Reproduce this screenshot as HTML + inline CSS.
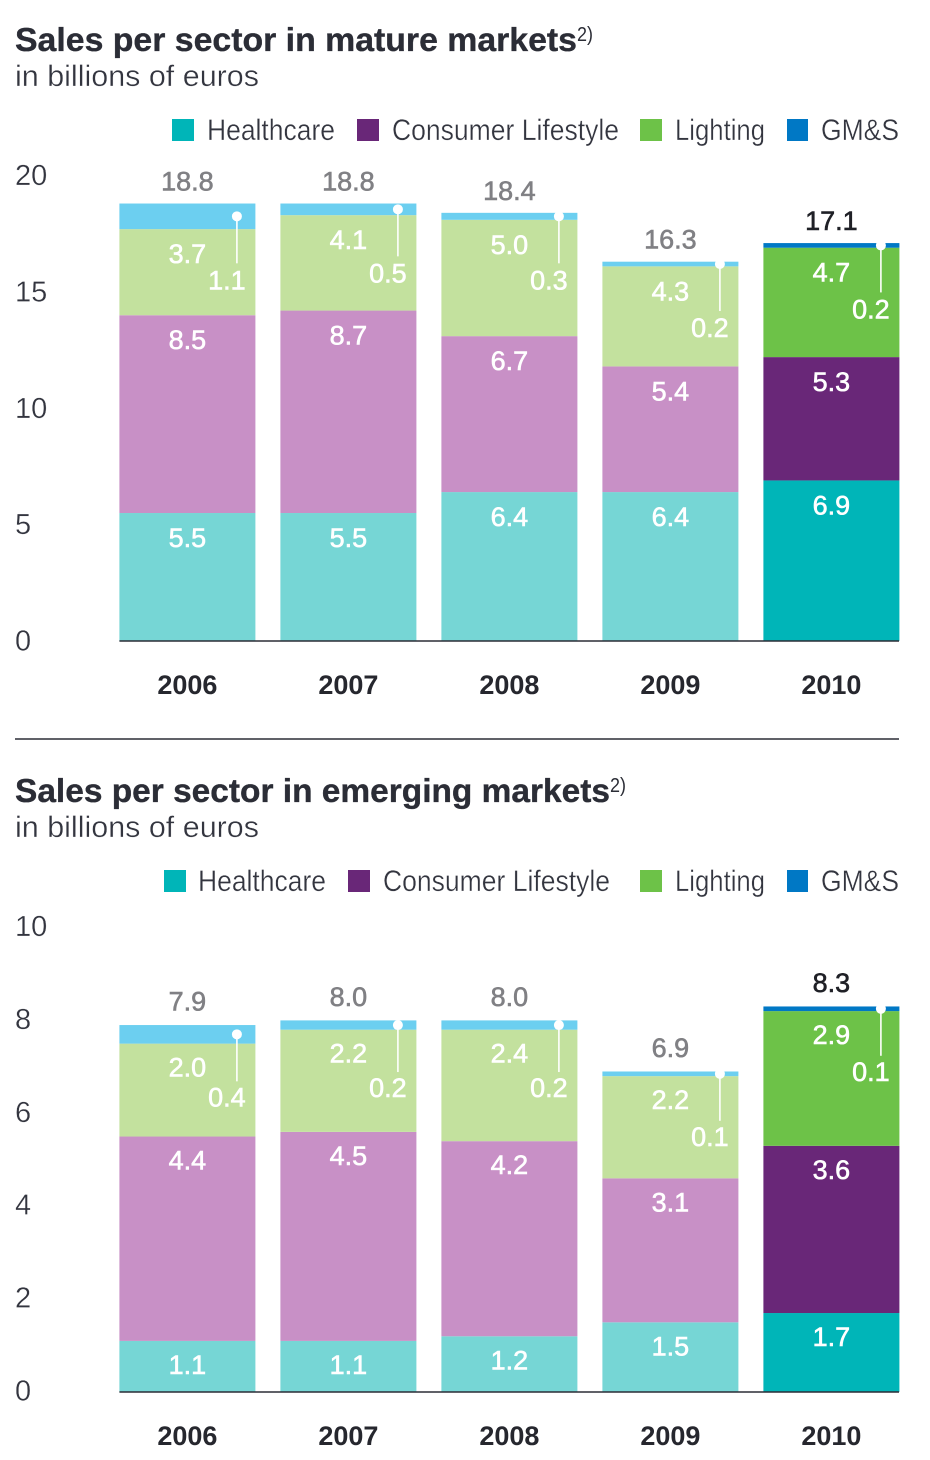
<!DOCTYPE html>
<html lang="en">
<head>
<meta charset="utf-8">
<title>Sales per sector</title>
<style>
html,body{margin:0;padding:0;background:#fff;width:930px;height:1460px;overflow:hidden}
svg{display:block}
text{font-family:"Liberation Sans",sans-serif}
.title{font-size:33px;font-weight:bold;fill:#2b2d36;stroke:#2b2d36;stroke-width:.35px}
.sup{font-size:20px;fill:#2b2d36}
.sub,.legend-label{font-size:30px;fill:#33353f;stroke:#fff;stroke-width:.35px;paint-order:normal}
.tick{font-size:29px;fill:#33353f;stroke:#fff;stroke-width:.3px}
.year{font-size:27px;font-weight:bold;fill:#26272e;text-anchor:middle}
.total{font-size:27px;fill:#808084;text-anchor:middle;stroke:#808084;stroke-width:.6px}
.total.cur{fill:#1f2026;stroke:#1f2026}
.val{font-size:27px;fill:#fff;text-anchor:middle;stroke:#fff;stroke-width:.6px}
</style>
</head>
<body>
<svg id="chart" xmlns="http://www.w3.org/2000/svg" width="930" height="1460" viewBox="0 0 930 1460">
  <text class="title" x="15" y="51" textLength="562" lengthAdjust="spacingAndGlyphs">Sales per sector in mature markets</text>
  <text class="sup" x="577" y="41" textLength="16" lengthAdjust="spacingAndGlyphs">2)</text>
  <text class="sub" x="15" y="86" textLength="244" lengthAdjust="spacingAndGlyphs">in billions of euros</text>

  <g>
    <rect x="172" y="119" width="22" height="22" fill="#00b5b8"/>
    <text class="legend-label" x="207" y="140" textLength="128" lengthAdjust="spacingAndGlyphs">Healthcare</text>
    <rect x="357" y="119" width="22" height="22" fill="#692778"/>
    <text class="legend-label" x="392" y="140" textLength="227" lengthAdjust="spacingAndGlyphs">Consumer Lifestyle</text>
    <rect x="640" y="119" width="22" height="22" fill="#6dc248"/>
    <text class="legend-label" x="675" y="140" textLength="90" lengthAdjust="spacingAndGlyphs">Lighting</text>
    <rect x="787" y="119" width="21" height="22" fill="#0078c5"/>
    <text class="legend-label" x="821" y="140" textLength="78" lengthAdjust="spacingAndGlyphs">GM&amp;S</text>
  </g>

  <g id="mature-plot"></g>

  <line x1="15" x2="899" y1="739" y2="739" stroke="#2b2d36" stroke-width="1.6"/>

  <text class="title" x="15" y="802" textLength="595" lengthAdjust="spacingAndGlyphs">Sales per sector in emerging markets</text>
  <text class="sup" x="610" y="792" textLength="16" lengthAdjust="spacingAndGlyphs">2)</text>
  <text class="sub" x="15" y="837" textLength="244" lengthAdjust="spacingAndGlyphs">in billions of euros</text>

  <g>
    <rect x="164" y="870" width="22" height="22" fill="#00b5b8"/>
    <text class="legend-label" x="198" y="891" textLength="128" lengthAdjust="spacingAndGlyphs">Healthcare</text>
    <rect x="348" y="870" width="22" height="22" fill="#692778"/>
    <text class="legend-label" x="383" y="891" textLength="227" lengthAdjust="spacingAndGlyphs">Consumer Lifestyle</text>
    <rect x="640" y="870" width="22" height="22" fill="#6dc248"/>
    <text class="legend-label" x="675" y="891" textLength="90" lengthAdjust="spacingAndGlyphs">Lighting</text>
    <rect x="787" y="870" width="21" height="22" fill="#0078c5"/>
    <text class="legend-label" x="821" y="891" textLength="78" lengthAdjust="spacingAndGlyphs">GM&amp;S</text>
  </g>

  <g id="emerging-plot"></g>
</svg>

<script>
var categories = ['2006', '2007', '2008', '2009', '2010'];

var matureHealthcare = [5.5, 5.5, 6.4, 6.4, 6.9];
var matureConsumer   = [8.5, 8.7, 6.7, 5.4, 5.3];
var matureLighting   = [3.7, 4.1, 5.0, 4.3, 4.7];
var matureGms        = [1.1, 0.5, 0.3, 0.2, 0.2];
var matureTotals     = [18.8, 18.8, 18.4, 16.3, 17.1];
var matureTicks      = [0, 5, 10, 15, 20];

var emergingHealthcare = [1.1, 1.1, 1.2, 1.5, 1.7];
var emergingConsumer   = [4.4, 4.5, 4.2, 3.1, 3.6];
var emergingLighting   = [2.0, 2.2, 2.4, 2.2, 2.9];
var emergingGms        = [0.4, 0.2, 0.2, 0.1, 0.1];
var emergingTotals     = [7.9, 8.0, 8.0, 6.9, 8.3];
var emergingTicks      = [0, 2, 4, 6, 8, 10];

var NS = 'http://www.w3.org/2000/svg';

function make(tag, attrs, parent, content) {
  var el = document.createElementNS(NS, tag);
  for (var k in attrs) { el.setAttribute(k, attrs[k]); }
  if (content !== undefined) { el.textContent = content; }
  parent.appendChild(el);
  return el;
}

function xBand(i) { return 119.4 + i * 161; }
var BAR_W = 136;

var mutedColors = ['#76d6d5', '#c890c6', '#c3e19e', '#6ccff0'];
var strongColors = ['#00b5b8', '#692778', '#6dc248', '#0078c5'];
var sectorKeys = ['healthcare', 'consumer-lifestyle', 'lighting', 'gms'];

function drawPanel(root, series, totals, ticks, baseY, pxPerUnit, nudge) {
  function yScale(v) { return baseY - v * pxPerUnit; }

  ticks.forEach(function (t) {
    var tick = make('text', { 'class': 'tick', x: 15, y: yScale(t) + 9.5 - nudge }, root, String(t));
    
    
  });

  categories.forEach(function (cat, i) {
    var x = xBand(i);
    var cx = x + BAR_W / 2;
    var isCurrent = i === categories.length - 1;
    var colors = isCurrent ? strongColors : mutedColors;
    var cum = 0;
    var group = make('g', {}, root);
    
    

    series.forEach(function (values, s) {
      var v = values[i];
      var yTop = yScale(cum + v);
      var yBot = yScale(cum);
      var seg = make('rect', { x: x, y: yTop, width: BAR_W, height: yBot - yTop, fill: colors[s] }, group);
      
      
      if (s < 3) {
        var label = make('text', { 'class': 'val', x: cx, y: yTop + 34 - nudge }, group, v.toFixed(1));
        
        
      }
      cum += v;
    });

    var gmsValue = series[3][i];
    var dotY = yScale(cum - gmsValue / 2);
    var dotX = x + 117.5;
    var leader = make('line', { x1: dotX, x2: dotX, y1: dotY, y2: dotY + 47, stroke: '#fff', 'stroke-width': 1.6 }, group);
    
    
    var dot = make('circle', { cx: dotX, cy: dotY, r: 5, fill: '#fff' }, group);
    
    
    var gmsLabel = make('text', { 'class': 'val', x: x + 107.5, y: dotY + 73 - nudge }, group, gmsValue.toFixed(1));
    
    

    var total = make('text', { 'class': isCurrent ? 'total cur' : 'total', x: cx, y: yScale(cum) - 13 - nudge * 1.5 }, group, totals[i].toFixed(1));
    
    

    var year = make('text', { 'class': 'year', x: cx, y: baseY + 53 }, group, cat);
    
    
  });

  var axis = make('line', { x1: 119.4, x2: 899, y1: baseY, y2: baseY, stroke: '#2b2d36', 'stroke-width': 1.4 }, root);
  
  
}

drawPanel(document.getElementById('mature-plot'),
  [matureHealthcare, matureConsumer, matureLighting, matureGms],
  matureTotals, matureTicks, 641, 23.27, 0);

drawPanel(document.getElementById('emerging-plot'),
  [emergingHealthcare, emergingConsumer, emergingLighting, emergingGms],
  emergingTotals, emergingTicks, 1392, 46.45, 1);
</script>
</body>
</html>
